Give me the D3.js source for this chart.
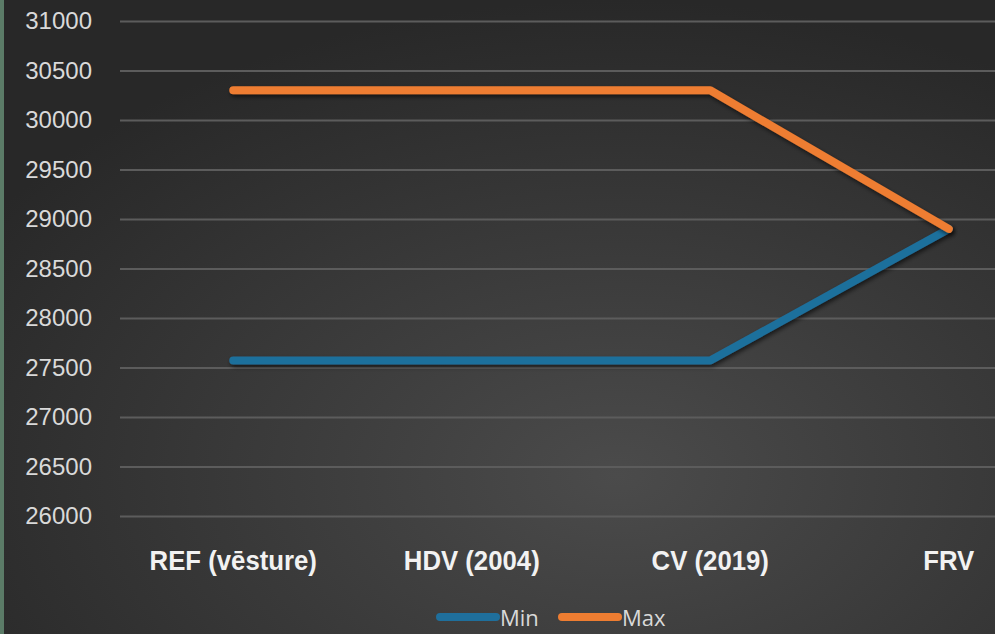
<!DOCTYPE html>
<html>
<head>
<meta charset="utf-8">
<script src="https://cdn.jsdelivr.net/npm/d3@7"></script>
<style>
  html, body { margin: 0; padding: 0; background: #2a2a2a; overflow: hidden; }
  svg { display: block; }
</style>
</head>
<body>
<svg id="chart" width="995" height="634"></svg>
<script>
// Min / Max per scenario
const categories = ["REF (vēsture)", "HDV (2004)", "CV (2019)", "FRV"];
const minValues = [27570, 27570, 27570, 28900];
const maxValues = [30300, 30300, 30300, 28900];
const yTicks = [26000, 26500, 27000, 27500, 28000, 28500, 29000, 29500, 30000, 30500, 31000];
const seriesNames = ["Min", "Max"];
const seriesColors = ["#1f6f9c", "#ee7d31"];

const W = 995, H = 634;
const svg = d3.select("#chart");
const defs = svg.append("defs");

// dark radial backdrop, lighter toward the lower middle-right
const bg = defs.append("radialGradient").attr("id", "bg")
  .attr("cx", "62%").attr("cy", "75%").attr("r", "75%");
bg.append("stop").attr("offset", "0%").attr("stop-color", "#4b4b4b");
bg.append("stop").attr("offset", "100%").attr("stop-color", "#282828");

const shadow = defs.append("filter").attr("id", "shadow")
  .attr("x", "-5%").attr("y", "-20%").attr("width", "110%").attr("height", "140%");
shadow.append("feDropShadow").attr("dx", 1.5).attr("dy", 2.5).attr("stdDeviation", 2)
  .attr("flood-color", "#000").attr("flood-opacity", 0.6);

svg.append("rect").attr("width", W).attr("height", H).attr("fill", "url(#bg)");
svg.append("rect").attr("width", 4).attr("height", H).attr("fill", "#5b7b67");

// plot area runs past the right edge of the picture, as in the reference crop
const x = d3.scaleBand().domain(categories).range([114, 1068]);
const cx = (c) => x(c) + x.bandwidth() / 2;
const y = d3.scaleLinear().domain([26000, 31000]).range([516, 21]);

// gridlines + y labels
const yAxis = svg.append("g").attr("transform", "translate(120,0)")
  .call(d3.axisLeft(y).tickValues(yTicks).tickSize(-(W - 120)).tickPadding(28).tickFormat(d3.format("d")));
yAxis.select(".domain").remove();
yAxis.selectAll(".tick line").attr("stroke", "#5c5c5c").attr("stroke-width", 2);
yAxis.selectAll(".tick text")
  .attr("fill", "#d9d9d9")
  .attr("font-family", "'Liberation Sans', Arial, sans-serif")
  .attr("font-size", 24);

// category labels: bold, squeezed horizontally to look like a narrow face
const xAxis = svg.append("g").attr("transform", "translate(0,516)")
  .call(d3.axisBottom(x).tickSize(0).tickPadding(0));
xAxis.select(".domain").remove();
xAxis.selectAll(".tick text")
  .attr("dy", null)
  .attr("y", 0)
  .attr("transform", "translate(0,54) scale(0.92,1)")
  .attr("fill", "#f2f2f2")
  .attr("font-family", "'Liberation Sans', Arial, sans-serif")
  .attr("font-weight", "bold")
  .attr("font-size", 28);

// series lines
const line = d3.line().x((d) => cx(d.c)).y((d) => y(d.v));
const series = [minValues, maxValues].map((vals, i) => ({
  name: seriesNames[i],
  color: seriesColors[i],
  pts: categories.map((c, j) => ({ c, v: vals[j] })),
}));

svg.append("g").selectAll("path").data(series).join("path")
  .attr("d", (s) => line(s.pts))
  .attr("fill", "none")
  .attr("stroke", (s) => s.color)
  .attr("stroke-width", 8)
  .attr("stroke-linejoin", "round")
  .attr("stroke-linecap", "round")
  .attr("filter", "url(#shadow)");

// legend at the bottom edge
const legend = svg.append("g").attr("transform", "translate(440,617)");
const item = legend.selectAll("g").data(series).join("g")
  .attr("transform", (d, i) => `translate(${i * 122},0)`);
item.append("line")
  .attr("x1", 0).attr("x2", 56).attr("y1", 0).attr("y2", 0)
  .attr("stroke", (d) => d.color).attr("stroke-width", 8).attr("stroke-linecap", "round");
item.append("text")
  .attr("x", 60).attr("y", 9)
  .attr("fill", "#d9d9d9")
  .attr("font-family", "'Open Sans', 'Noto Sans', sans-serif")
  .attr("font-size", 22)
  .text((d) => d.name);
</script>
</body>
</html>
